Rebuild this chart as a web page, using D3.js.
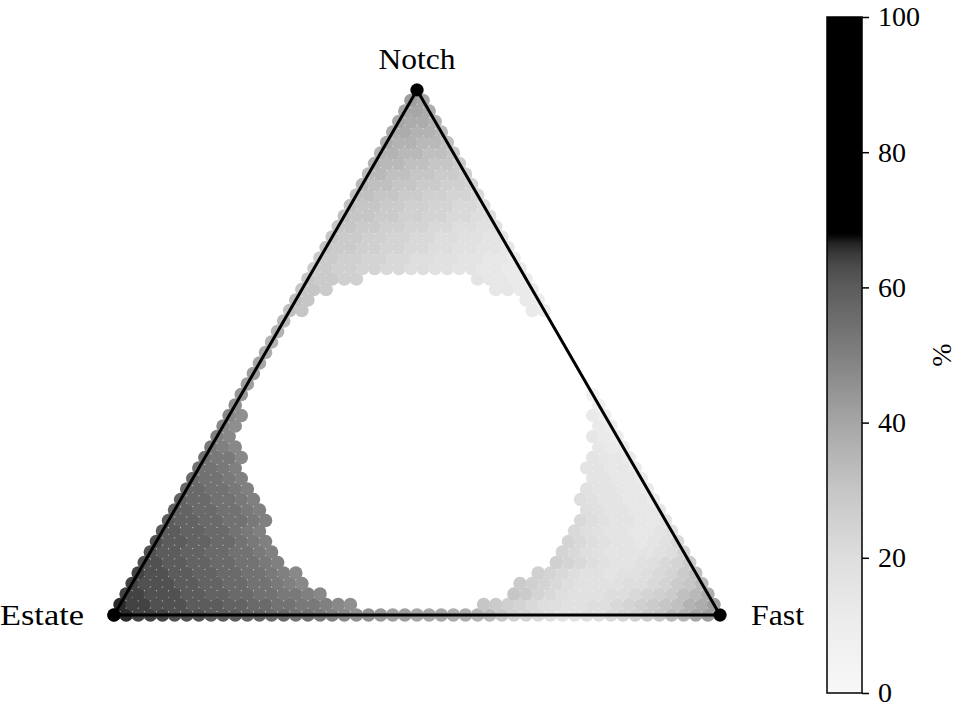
<!DOCTYPE html>
<html><head><meta charset="utf-8">
<script src="https://cdn.jsdelivr.net/npm/d3@7"></script>
<style>
body{margin:0;background:#fff}
svg{display:block}
text{font-family:"Liberation Serif","Times New Roman",serif;fill:#000}
</style>
</head><body>
<svg id="c" width="960" height="712"></svg>
<script>
// ---------- data ----------
const corners = ["Estate", "Fast", "Notch"];
const latticeScale = 50;                 // points per side
const colorbarTicks = [0, 20, 40, 60, 80, 100];
const colorbarLabel = "%";
// each character = one lattice point, value = 2 * index in this alphabet
const levelCodes = "0123456789abcdefghijklmnopqrstuvwxyz";
// row r (0 = bottom edge Estate→Fast, 50 = Notch apex); left run starts at the
// left edge, right run ends at the right edge; points between are missing
const leftRuns = [
  "yxwwwvvvuuuttssrrqponnmllkkkjjihfdcba99aabcdefhikln",
  "xwwvvvuuuttssrrqqpon",
  "wwvvvuuttssrrqqpo",
  "wvvvuuttssrrqpo",
  "wvvuuttssrrqpo",
  "vvuuttssrrqp",
  "vuuttssrrqp",
  "vuuttssrqp",
  "uuttssrqp",
  "uttssrrqp",
  "ttssrrqp",
  "tssrrqp",
  "ssrrqp",
  "srrqp",
  "rrqp",
  "rqqo",
  "qpo",
  "po",
  "on",
  "on",
  "n",
  "m",
  "l",
  "l",
  "k",
  "j",
  "i",
  "i",
  "h",
  "gf",
  "gf",
  "ffe",
  "feedd",
  "eeddccbbaa99887766",
  "eeddccbbaa9988776",
  "feeddccbbaa99887",
  "feeddccbbaa9988",
  "ffeeddccbbaa99",
  "gffeeddccbbaa",
  "gffeeddccbba",
  "ggffeeddccb",
  "hggffeeddc",
  "hhggffeed",
  "ihhggffe",
  "iihhggf",
  "jiihhg",
  "jjiih",
  "kjji",
  "kkj",
  "lk",
  "m"
];
const rightRuns = [
  "",
  "fedcbaa99aabcdefgijl",
  "fecba999aabcdeghj",
  "edcba9999aabcefh",
  "dcba99899abceg",
  "dcba9889abce",
  "cba988889ac",
  "cba988789b",
  "ba9887789",
  "ba988778",
  "a988777",
  "a988776",
  "988776",
  "88776",
  "88776",
  "8776",
  "766",
  "765",
  "65",
  "65",
  "4",
  "3",
  "", "", "", "", "", "", "",
  "65",
  "65",
  "7766",
  "87766",
  "", "", "", "", "", "", "", "", "", "", "", "", "", "", "", "", "", ""
];
// colormap (value -> gray level)
const cmapValues = [0, 10, 20, 30, 40, 50, 55, 60, 63, 65, 66.5, 67.5, 68, 100];
const cmapGrays  = [248, 237, 222, 198, 166, 128, 110, 92, 76, 58, 36, 10, 0, 0];

// ---------- build points ----------
const points = [];
for (let r = 0; r <= latticeScale; r++) {
  const len = latticeScale - r + 1;
  const L = leftRuns[r] || "", R = rightRuns[r] || "";
  for (let i = 0; i < len; i++) {
    let ch = null;
    if (i < L.length) ch = L[i];
    else if (i >= len - R.length) ch = R[i - (len - R.length)];
    if (ch === null) continue;
    points.push({ r, i, v: 2 * levelCodes.indexOf(ch) });
  }
}

// ---------- scales ----------
const svg = d3.select("#c");
const x = d3.scaleLinear().domain([0, latticeScale]).range([114, 720]);
const y = d3.scaleLinear().domain([0, latticeScale]).range([615, 90]);
const color = d3.scaleLinear().domain(cmapValues)
  .range(cmapGrays.map(g => d3.rgb(g, g, g)))
  .interpolate(d3.interpolateRgb).clamp(true);

// ---------- dots ----------
svg.append("g").selectAll("circle").data(points).join("circle")
  .attr("cx", d => x(d.i + d.r / 2))
  .attr("cy", d => y(d.r))
  .attr("r", 6.8)
  .attr("fill", d => color(d.v));

// ---------- triangle ----------
const verts = [[0, 0], [latticeScale, 0], [latticeScale / 2, latticeScale]]
  .map(([u, r]) => [x(u), y(r)]);
svg.append("path")
  .attr("d", d3.line()([...verts, verts[0]]))
  .attr("fill", "none").attr("stroke", "#000").attr("stroke-width", 3)
  .attr("stroke-linejoin", "miter");
svg.append("g").selectAll("circle").data(verts).join("circle")
  .attr("cx", d => d[0]).attr("cy", d => d[1]).attr("r", 6.5).attr("fill", "#000");

// corner labels
const fs = 30;
svg.append("text").attr("x", verts[0][0] - 30).attr("y", verts[0][1] + 10)
  .attr("text-anchor", "end").attr("font-size", fs)
  .attr("textLength", 84).attr("lengthAdjust", "spacingAndGlyphs").text(corners[0]);
svg.append("text").attr("x", verts[1][0] + 31).attr("y", verts[1][1] + 10)
  .attr("text-anchor", "start").attr("font-size", fs)
  .attr("textLength", 53).attr("lengthAdjust", "spacingAndGlyphs").text(corners[1]);
svg.append("text").attr("x", verts[2][0]).attr("y", verts[2][1] - 21)
  .attr("text-anchor", "middle").attr("font-size", fs)
  .attr("textLength", 77).attr("lengthAdjust", "spacingAndGlyphs").text(corners[2]);

// ---------- colorbar ----------
const cbX = 827, cbW = 35;
const cbY = d3.scaleLinear().domain([0, 100]).range([693, 17]);
const grad = svg.append("defs").append("linearGradient")
  .attr("id", "cb").attr("x1", 0).attr("y1", 1).attr("x2", 0).attr("y2", 0);
grad.selectAll("stop").data(cmapValues).join("stop")
  .attr("offset", d => d / 100)
  .attr("stop-color", d => color(d));
svg.append("rect").attr("x", cbX).attr("y", cbY(100)).attr("width", cbW)
  .attr("height", cbY(0) - cbY(100)).attr("fill", "url(#cb)")
  .attr("stroke", "#000").attr("stroke-width", 1.5);
const ax = svg.append("g").attr("transform", `translate(${cbX + cbW},0)`)
  .call(d3.axisRight(cbY).tickValues(colorbarTicks).tickSize(7).tickPadding(9));
ax.select(".domain").remove();
ax.selectAll(".tick line").attr("stroke", "#000").attr("stroke-width", 1.5);
ax.selectAll(".tick text").attr("font-size", 28)
  .attr("font-family", "Liberation Serif, Times New Roman, serif").attr("fill", "#000");
svg.append("text").attr("transform", "translate(951,355) rotate(-90)")
  .attr("text-anchor", "middle").attr("font-size", 28).text(colorbarLabel);
</script>
</body></html>
